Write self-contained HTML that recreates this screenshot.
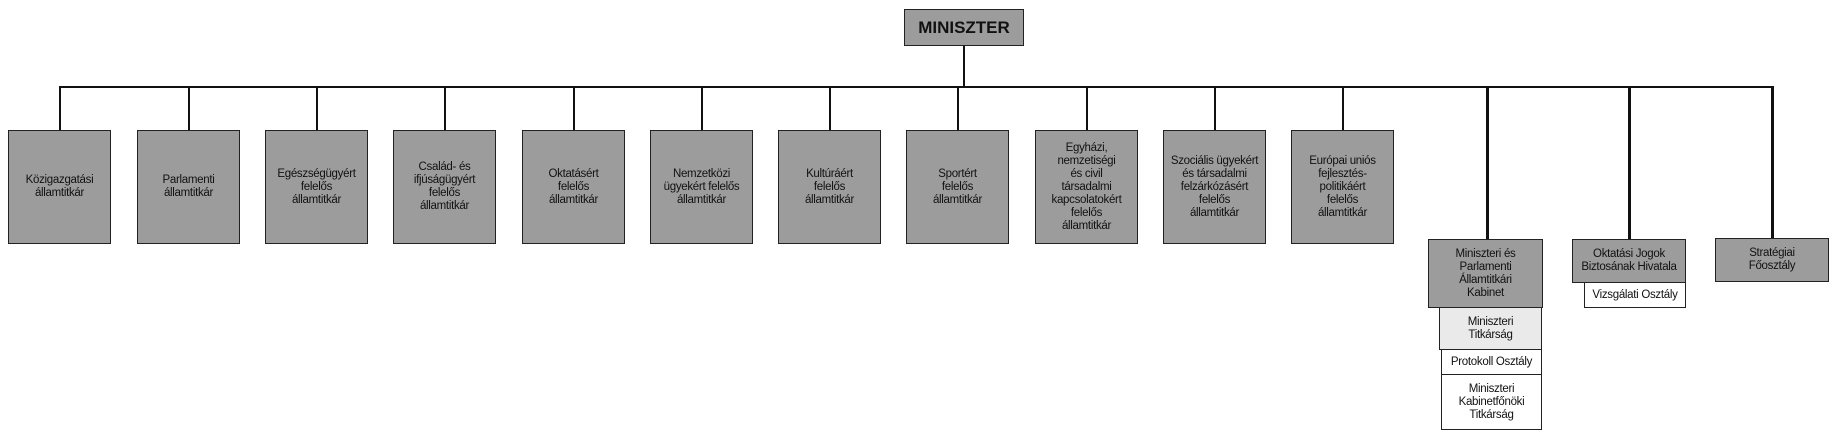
<!DOCTYPE html>
<html><head><meta charset="utf-8"><style>
body{margin:0;width:1845px;height:444px;background:#fff;position:relative;overflow:hidden;font-family:"Liberation Sans Narrow","Liberation Sans",sans-serif;}
.b{position:absolute;box-sizing:border-box;border:1.5px solid #222;background:#9c9c9c;display:flex;align-items:center;justify-content:center;text-align:center;font-size:11.5px;line-height:13px;color:#111;letter-spacing:-0.3px}
.w{background:#fff}
.l{background:#eaeaea}
.v{position:absolute;width:2px;background:#111}
.h{position:absolute;height:2px;background:#111}
</style></head><body>
<div class="b" style="left:904px;top:9px;width:120px;height:37px;font-weight:bold;font-size:17px;letter-spacing:0">MINISZTER</div>
<div class="v" style="left:963px;top:46px;height:41px"></div>
<div class="h" style="left:59px;top:86px;width:1715px"></div>

<div class="v" style="left:59px;top:86px;height:45px"></div>
<div class="b" style="left:8px;top:130px;width:103px;height:114px">Közigazgatási<br>államtitkár</div>
<div class="v" style="left:188px;top:86px;height:45px"></div>
<div class="b" style="left:137px;top:130px;width:103px;height:114px">Parlamenti<br>államtitkár</div>
<div class="v" style="left:316px;top:86px;height:45px"></div>
<div class="b" style="left:265px;top:130px;width:103px;height:114px">Egészségügyért<br>felelős<br>államtitkár</div>
<div class="v" style="left:444px;top:86px;height:45px"></div>
<div class="b" style="left:393px;top:130px;width:103px;height:114px">Család- és<br>ifjúságügyért<br>felelős<br>államtitkár</div>
<div class="v" style="left:573px;top:86px;height:45px"></div>
<div class="b" style="left:522px;top:130px;width:103px;height:114px">Oktatásért<br>felelős<br>államtitkár</div>
<div class="v" style="left:701px;top:86px;height:45px"></div>
<div class="b" style="left:650px;top:130px;width:103px;height:114px">Nemzetközi<br>ügyekért felelős<br>államtitkár</div>
<div class="v" style="left:829px;top:86px;height:45px"></div>
<div class="b" style="left:778px;top:130px;width:103px;height:114px">Kultúráért<br>felelős<br>államtitkár</div>
<div class="v" style="left:957px;top:86px;height:45px"></div>
<div class="b" style="left:906px;top:130px;width:103px;height:114px">Sportért<br>felelős<br>államtitkár</div>
<div class="v" style="left:1086px;top:86px;height:45px"></div>
<div class="b" style="left:1035px;top:130px;width:103px;height:114px">Egyházi,<br>nemzetiségi<br>és civil<br>társadalmi<br>kapcsolatokért<br>felelős<br>államtitkár</div>
<div class="v" style="left:1214px;top:86px;height:45px"></div>
<div class="b" style="left:1163px;top:130px;width:103px;height:114px">Szociális ügyekért<br>és társadalmi<br>felzárkózásért<br>felelős<br>államtitkár</div>
<div class="v" style="left:1342px;top:86px;height:45px"></div>
<div class="b" style="left:1291px;top:130px;width:103px;height:114px">Európai uniós<br>fejlesztés-<br>politikáért<br>felelős<br>államtitkár</div>

<div class="v" style="left:1486px;top:86px;height:154px;width:3px"></div>
<div class="b" style="left:1428px;top:239px;width:115px;height:69px">Miniszteri és<br>Parlamenti<br>Államtitkári<br>Kabinet</div>
<div class="b l" style="left:1439px;top:307px;width:103px;height:43px">Miniszteri<br>Titkárság</div>
<div class="b w" style="left:1441px;top:349px;width:101px;height:26px">Protokoll Osztály</div>
<div class="b w" style="left:1441px;top:374px;width:101px;height:56px">Miniszteri<br>Kabinetfőnöki<br>Titkárság</div>

<div class="v" style="left:1628px;top:86px;height:154px;width:3px"></div>
<div class="b" style="left:1572px;top:239px;width:114px;height:44px">Oktatási Jogok<br>Biztosának Hivatala</div>
<div class="b w" style="left:1584px;top:282px;width:102px;height:26px">Vizsgálati Osztály</div>

<div class="v" style="left:1771px;top:86px;height:154px;width:3px"></div>
<div class="b" style="left:1715px;top:238px;width:114px;height:44px">Stratégiai<br>Főosztály</div>
</body></html>
